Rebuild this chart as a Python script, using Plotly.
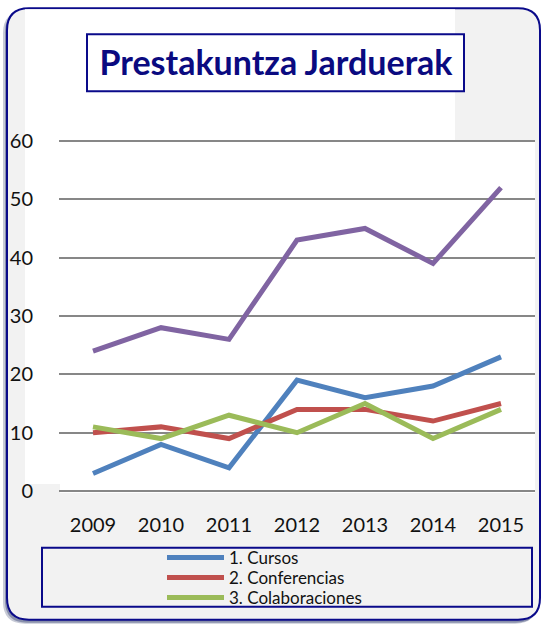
import plotly.graph_objects as go

years = ["2009", "2010", "2011", "2012", "2013", "2014", "2015"]
total = [24, 28, 26, 43, 45, 39, 52]
cursos = [3, 8, 4, 19, 16, 18, 23]
conferencias = [10, 11, 9, 14, 14, 12, 15]
colaboraciones = [11, 9, 13, 10, 15, 9, 14]
y_ticks = [0, 10, 20, 30, 40, 50, 60]

W, H = 544, 624
L, T = 59, 138
R = W - 535
B = H - 495
PW, PH = W - L - R, H - T - B

def fx(px):
    return (px - L) / PW

def fy(py):
    return (H - B - py) / PH

def rrect_path(x0, y0, x1, y1, r):
    pts = [
        f"M{fx(x0 + r)},{fy(y0)}",
        f"L{fx(x1 - r)},{fy(y0)}",
        f"Q{fx(x1)},{fy(y0)} {fx(x1)},{fy(y0 + r)}",
        f"L{fx(x1)},{fy(y1 - r)}",
        f"Q{fx(x1)},{fy(y1)} {fx(x1 - r)},{fy(y1)}",
        f"L{fx(x0 + r)},{fy(y1)}",
        f"Q{fx(x0)},{fy(y1)} {fx(x0)},{fy(y1 - r)}",
        f"L{fx(x0)},{fy(y0 + r)}",
        f"Q{fx(x0)},{fy(y0)} {fx(x0 + r)},{fy(y0)}",
        "Z",
    ]
    return " ".join(pts)

def rect(x0, y0, x1, y1, fill, line=None, lw=0):
    d = dict(type="rect", xref="paper", yref="paper",
             x0=fx(x0), x1=fx(x1), y0=fy(y1), y1=fy(y0),
             fillcolor=fill, layer="below")
    d["line"] = dict(color=line, width=lw) if line else dict(width=0)
    return d

navy = "#0a0a8a"
shapes = []
# shadow
shapes.append(dict(type="path", xref="paper", yref="paper",
                   path=rrect_path(3, 11, 537, 625, 22),
                   fillcolor="rgba(70,80,120,0.30)", line=dict(width=0), layer="below"))
shapes.append(dict(type="path", xref="paper", yref="paper",
                   path=rrect_path(5, 10, 538, 624, 22),
                   fillcolor="rgba(60,70,120,0.45)", line=dict(width=0), layer="below"))
# frame fill
shapes.append(dict(type="path", xref="paper", yref="paper",
                   path=rrect_path(7, 8, 540, 621, 22),
                   fillcolor="#f2f2f2", line=dict(color=navy, width=2), layer="below"))
# white regions
shapes.append(rect(25, 9, 455, 141, "white"))
shapes.append(rect(25, 141, 535, 485, "white"))
shapes.append(rect(60, 485, 535, 494, "white"))
# title box
shapes.append(rect(87, 34, 464, 91, "white", navy, 2))
# legend box
shapes.append(rect(42, 549, 532, 608, "#f2f2f2", navy, 2))

fig = go.Figure()
fig.add_trace(go.Scatter(x=years, y=total, mode="lines", name="Total",
                         line=dict(color="#8064a2", width=5), showlegend=False))
fig.add_trace(go.Scatter(x=years, y=cursos, mode="lines", name="1. Cursos",
                         line=dict(color="#4f81bd", width=5), legend="legend"))
fig.add_trace(go.Scatter(x=years, y=conferencias, mode="lines", name="2. Conferencias",
                         line=dict(color="#c0504d", width=5), legend="legend2"))
fig.add_trace(go.Scatter(x=years, y=colaboraciones, mode="lines", name="3. Colaboraciones",
                         line=dict(color="#9bbb59", width=5), legend="legend3"))

def leg(py):
    return dict(x=fx(162), y=fy(py), xanchor="left", yanchor="middle",
                bgcolor="rgba(0,0,0,0)", borderwidth=0,
                font=dict(family="Lato", size=17, color="#111111"),
                itemwidth=57)

fig.update_layout(
    width=W, height=H,
    margin=dict(l=L, r=R, t=T, b=B, pad=0),
    paper_bgcolor="white",
    plot_bgcolor="rgba(0,0,0,0)",
    font=dict(family="Lato", color="#111111", size=20),
    title=dict(text="<b>Prestakuntza Jarduerak</b>", x=fx(276), xref="paper",
               y=1 - 63 / H, yref="container", xanchor="center", yanchor="middle",
               font=dict(family="Lato", size=34, color="#0a0a80")),
    shapes=shapes,
    showlegend=True,
    legend=leg(558),
    legend2=leg(578),
    legend3=leg(598),
    xaxis=dict(type="category", range=[-0.5, 6.5], showgrid=False, zeroline=False,
               showline=False, ticks="outside", ticklen=13, tickcolor="rgba(0,0,0,0)",
               tickfont=dict(size=20)),
    yaxis=dict(range=[-0.5, 60.5], tickvals=y_ticks, showgrid=True, gridcolor="#878787",
               gridwidth=2, zeroline=False, showline=False, ticks="outside", ticklen=21,
               tickcolor="rgba(0,0,0,0)", tickfont=dict(size=20)),
)

fig.write_html("out.html", config={"displayModeBar": False},
               post_script="document.body.style.margin='0';")
